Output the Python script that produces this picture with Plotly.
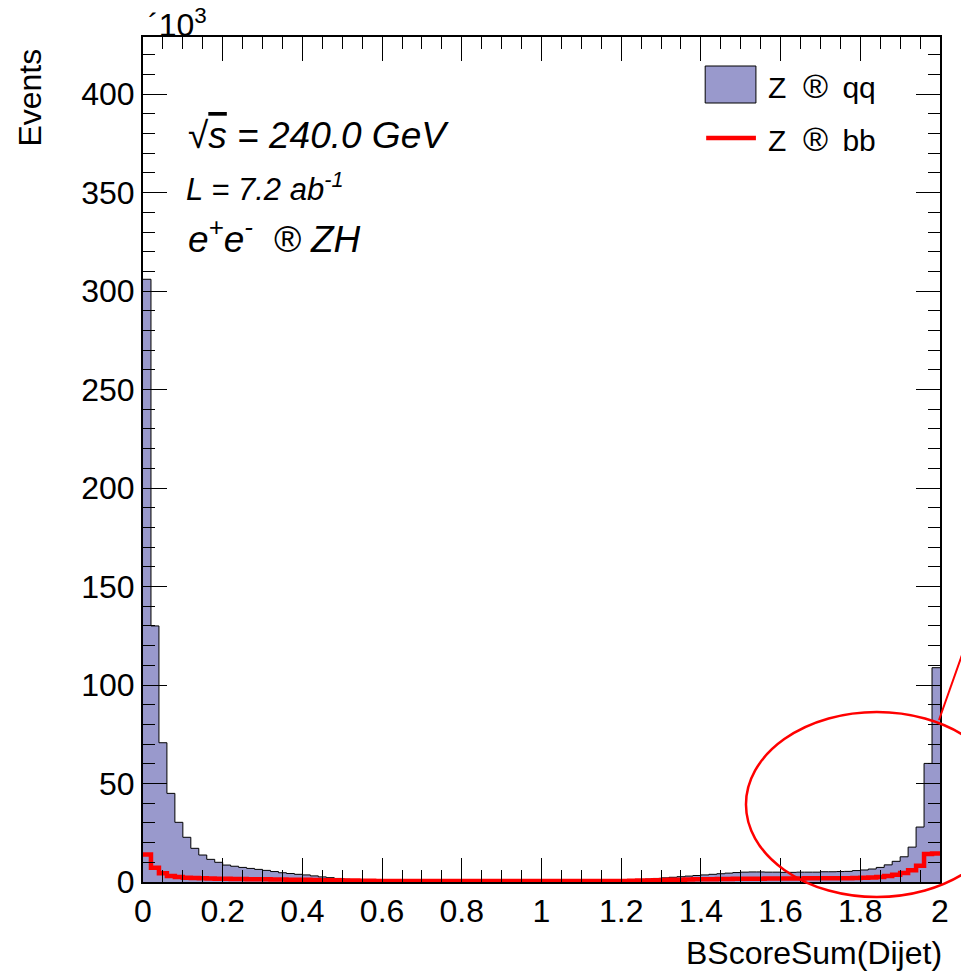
import numpy as np
import plotly.graph_objects as go

# ---------------- data (events in units of 10^3) ----------------
bin_edges = np.round(np.arange(0, 2.0001, 0.02), 4)  # 100 bins of width 0.02

qq_events = [
    306, 130, 70.7, 45, 30.3, 22.7, 17.1, 13.7, 11.5, 10.0,
    8.6, 8.0, 7.4, 6.9, 6.4, 5.9, 5.3, 4.7, 4.3, 3.9,
    3.6, 3.1, 2.6, 2.2, 1.8, 1.4, 1.1, 0.9, 0.8, 0.8,
    0.75, 0.7, 0.7, 0.65, 0.65, 0.6, 0.6, 0.6, 0.55, 0.55,
    0.55, 0.5, 0.5, 0.5, 0.5, 0.5, 0.5, 0.5, 0.5, 0.5,
    0.5, 0.5, 0.5, 0.5, 0.55, 0.55, 0.6, 0.6, 0.65, 0.7,
    0.8, 0.9, 1.2, 1.5, 1.8, 2.1, 2.4, 2.7, 3.0, 3.3,
    3.6, 3.9, 4.2, 4.5, 4.8, 5.0, 5.1, 5.1, 5.0, 5.0,
    4.9, 4.9, 5.0, 5.0, 5.0, 5.2, 5.2, 5.3, 5.4, 5.8,
    6.1, 6.6, 7.4, 8.7, 10.5, 12.8, 17.7, 27.9, 60.2, 108.8,
]

bb_events = [
    14.0, 7.2, 4.4, 3.0, 2.5, 2.2, 2.0, 1.9, 1.8, 1.7,
    1.6, 1.55, 1.5, 1.45, 1.4, 1.35, 1.3, 1.25, 1.2, 1.15,
    1.1, 1.0, 0.95, 0.9, 0.85, 0.8, 0.7, 0.65, 0.6, 0.55,
    0.5, 0.5, 0.5, 0.5, 0.5, 0.5, 0.5, 0.5, 0.5, 0.5,
    0.45, 0.45, 0.45, 0.45, 0.45, 0.45, 0.45, 0.45, 0.45, 0.45,
    0.45, 0.45, 0.45, 0.45, 0.45, 0.45, 0.5, 0.5, 0.5, 0.5,
    0.55, 0.6, 0.7, 0.8, 0.9, 1.0, 1.1, 1.2, 1.3, 1.35,
    1.4, 1.45, 1.5, 1.55, 1.6, 1.65, 1.7, 1.7, 1.75, 1.75,
    1.8, 1.8, 1.8, 1.85, 1.85, 1.9, 1.9, 1.9, 1.95, 2.0,
    2.1, 2.3, 2.6, 3.0, 3.7, 4.6, 6.0, 8.2, 14.2, 14.5,
]

x_ticks = [0, 0.2, 0.4, 0.6, 0.8, 1, 1.2, 1.4, 1.6, 1.8, 2]
y_ticks = [0, 50, 100, 150, 200, 250, 300, 350, 400]

NB = "\u00a0"
TH = "\u2009"
legend_labels = [
    f"Z{NB}{NB}<span style='font-size:34px'>®</span>{NB}{TH}qq",
    f"Z{NB}{NB}<span style='font-size:34px'>®</span>{NB}{TH}bb",
]

# ---------------- figure ----------------
FONT = "Liberation Sans, Arial, sans-serif"
FILL = "#9999CC"


def step_xy(edges, vals):
    xs = list(edges[:-1]) + [edges[-1]]
    ys = list(vals) + [vals[-1]]
    return xs, ys


fig = go.Figure()

xq, yq = step_xy(bin_edges, qq_events)
fig.add_trace(go.Scatter(
    x=xq, y=yq, mode="lines", line_shape="hv",
    line=dict(color="black", width=1),
    fill="tozeroy", fillcolor=FILL,
    name="Z ® qq", showlegend=False, hoverinfo="skip",
))

xb, yb = step_xy(bin_edges, bb_events)
fig.add_trace(go.Scatter(
    x=xb, y=yb, mode="lines", line_shape="hv",
    line=dict(color="#FF0000", width=4.5),
    name="Z ® bb", showlegend=False, hoverinfo="skip",
))

W, H = 961, 973
L_, R_, T_, B_ = 143, 944, 37, 882


def px(xp):
    return (xp - L_) / (R_ - L_)


def py(yp):
    return (B_ - yp) / (B_ - T_)


axis_common = dict(
    showline=True, linewidth=2, linecolor="black", mirror="allticks",
    ticks="inside", ticklen=24, tickwidth=1, tickcolor="black",
    showgrid=False, zeroline=False,
    tickfont=dict(family=FONT, size=32, color="black"),
)

fig.update_xaxes(
    range=[0, 2], tickvals=x_ticks, ticktext=[f"{v:g}" for v in x_ticks],
    minor=dict(dtick=0.05, ticklen=12, tickwidth=1, tickcolor="black",
               ticks="inside", showgrid=False),
    **axis_common,
)
fig.update_yaxes(
    range=[0, 429], tickvals=y_ticks, ticktext=[str(v) for v in y_ticks],
    minor=dict(dtick=10, ticklen=12, tickwidth=1, tickcolor="black",
               ticks="inside", showgrid=False),
    **axis_common,
)

shapes = [
    # legend swatches
    dict(type="rect", xref="paper", yref="paper",
         x0=px(708), x1=px(759), y0=py(103), y1=py(66),
         fillcolor=FILL, line=dict(color="black", width=1)),
    dict(type="line", xref="paper", yref="paper",
         x0=px(709), x1=px(759), y0=py(138), y1=py(138),
         line=dict(color="#FF0000", width=4.5)),
    # red highlight ellipse and pointer
    dict(type="circle", xref="paper", yref="paper",
         x0=px(749), x1=px(1012), y0=py(897), y1=py(712),
         line=dict(color="#FF0000", width=2.5)),
    dict(type="line", xref="paper", yref="paper",
         x0=px(943), x1=px(975), y0=py(720), y1=py(630),
         line=dict(color="#FF0000", width=2)),
]

annotations = [
    dict(text=legend_labels[0], x=px(769), y=py(86), xanchor="left", yanchor="middle",
         font=dict(family=FONT, size=30, color="black")),
    dict(text=legend_labels[1], x=px(769), y=py(139), xanchor="left", yanchor="middle",
         font=dict(family=FONT, size=30, color="black")),
    dict(text="<i>√<span style='text-decoration:overline'>s</span> = 240.0 GeV</i>",
         x=px(186), y=py(135), xanchor="left", yanchor="middle",
         font=dict(family=FONT, size=37, color="black")),
    dict(text="<i>L = 7.2 ab<sup>-1</sup></i>",
         x=px(184), y=py(187), xanchor="left", yanchor="middle",
         font=dict(family=FONT, size=31, color="black")),
    dict(text=f"<i>e<sup>+</sup>e<sup>-</sup>{NB}{NB}® ZH</i>",
         x=px(186), y=py(236), xanchor="left", yanchor="middle",
         font=dict(family=FONT, size=37, color="black")),
    dict(text="Events", textangle=-90, x=px(29), y=py(98),
         xanchor="center", yanchor="middle",
         font=dict(family=FONT, size=32, color="black")),
    dict(text="BScoreSum(Dijet)", x=px(948), y=py(953), xanchor="right", yanchor="middle",
         font=dict(family=FONT, size=32, color="black")),
    dict(text="´10<sup>3</sup>", x=px(146), y=py(23), xanchor="left", yanchor="middle",
         font=dict(family=FONT, size=32, color="black")),
]
for a in annotations:
    a.update(xref="paper", yref="paper", showarrow=False)

fig.update_layout(
    width=W, height=H,
    margin=dict(l=L_, r=W - R_, t=T_, b=H - B_, pad=0),
    paper_bgcolor="white", plot_bgcolor="white",
    shapes=shapes, annotations=annotations,
    showlegend=False,
    font=dict(family=FONT, color="black"),
)

fig.write_html("out.html")
